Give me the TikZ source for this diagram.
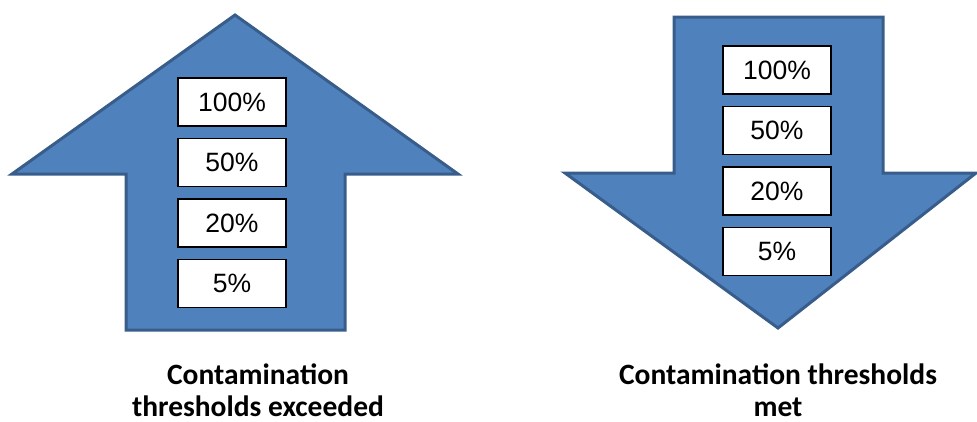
\documentclass[tikz,border=0pt]{standalone}
\usepackage{fontspec}
\setmainfont{Liberation Sans}
\newfontfamily\labelfont{Carlito}
\usetikzlibrary{positioning}
\definecolor{arrowblue}{RGB}{79,129,189}
\definecolor{arrowedge}{RGB}{56,93,138}

\begin{document}
\begin{tikzpicture}[
    x=1pt,
    y=-1pt,
    node distance=11pt,
    lvl/.style={
        draw=black,
        line width=1.5pt,
        fill=white,
        minimum width=108pt,
        minimum height=48pt,
        inner sep=0pt,
        font=\fontsize{26.5}{30}\selectfont
    },
    bigarrow/.style={
        fill=arrowblue,
        draw=arrowedge,
        line width=3pt
    },
    caption/.style={
        align=center,
        inner sep=0pt,
        font=\labelfont\bfseries\fontsize{29.5}{31.5}\selectfont
    }
]
\useasboundingbox (0,0) rectangle (977,421);

% upward arrow
\draw[bigarrow] (235,15) -- (458,174) -- (345,174) -- (345,330)
    -- (126,330) -- (126,174) -- (12,174) -- cycle;

\node[lvl] (up100) at (232,102) {100\%};
\node[lvl, below=of up100] (up50) {50\%};
\node[lvl, below=of up50] (up20) {20\%};
\node[lvl, below=of up20] (up5) {5\%};

% downward arrow
\draw[bigarrow] (674,17) -- (883,17) -- (883,173) -- (976,173)
    -- (778,328) -- (565,173) -- (674,173) -- cycle;

\node[lvl] (dn100) at (777,70) {100\%};
\node[lvl, below=of dn100] (dn50) {50\%};
\node[lvl, below=of dn50] (dn20) {20\%};
\node[lvl, below=of dn20] (dn5) {5\%};

% captions (base = last line)
\node[caption, anchor=base] (upcap) at (258,416) {Contamination\\thresholds exceeded};
\node[caption, anchor=base] (dncap) at (778,416) {Contamination thresholds\\met};

\end{tikzpicture}
\end{document}
